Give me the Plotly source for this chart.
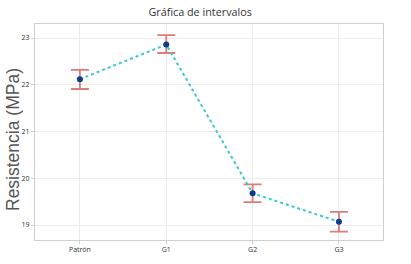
import plotly.graph_objects as go

categories = ["Patrón", "G1", "G2", "G3"]
means = [22.12, 22.86, 19.68, 19.07]
err_plus = [0.20, 0.20, 0.19, 0.21]
err_minus = [0.21, 0.18, 0.19, 0.21]
y_ticks = [19, 20, 21, 22, 23]
y_ticklabels = ["19", "20", "21", "22", "23"]
y_title = "Resistencia (MPa)"

fig = go.Figure()
fig.add_trace(go.Scatter(
    x=list(range(len(categories))), y=means,
    mode="lines+markers",
    line=dict(color="#3cc8c8", dash="dot", width=2),
    marker=dict(color="#0b3d91", size=6),
    error_y=dict(type="data", symmetric=False, array=err_plus, arrayminus=err_minus,
                 color="#e07b7b", thickness=1.8, width=9),
    showlegend=False,
))

fig.update_layout(
    width=411, height=264,
    margin=dict(l=35, r=28, t=24, b=24, autoexpand=False),
    paper_bgcolor="white", plot_bgcolor="white",
    title=dict(text="Gráfica de intervalos", x=0.487, xanchor="center", y=0.952, yanchor="middle",
               font=dict(family="Open Sans", size=10.8, color="#333")),
    font=dict(family="Open Sans", color="#444"),
)
fig.add_annotation(
    text=y_title, textangle=-90, xref="paper", yref="paper", x=0, y=0.5,
    xanchor="center", yanchor="middle", xshift=-22, yshift=-8, showarrow=False,
    font=dict(family="Liberation Sans", size=17.5, color="#555"),
)
fig.update_xaxes(
    tickmode="array", tickvals=list(range(len(categories))), ticktext=categories,
    range=[-0.52, 3.51], showgrid=True, gridcolor="#ececec",
    showline=True, linecolor="#cfcfcf", mirror=True,
    ticks="outside", ticklen=3, tickcolor="#cfcfcf",
    tickfont=dict(size=7, color="#333"), zeroline=False, automargin=False,
)
fig.update_yaxes(
    tickmode="array", tickvals=y_ticks, ticktext=y_ticklabels,
    range=[18.68, 23.3], showgrid=True, gridcolor="#ececec",
    showline=True, linecolor="#cfcfcf", mirror=True,
    ticks="outside", ticklen=3, tickcolor="#cfcfcf",
    tickfont=dict(size=7, color="#333"), zeroline=False, automargin=False,
)

fig.write_html("out.html", config={"displayModeBar": False},
               post_script="document.body.style.margin='0';")
